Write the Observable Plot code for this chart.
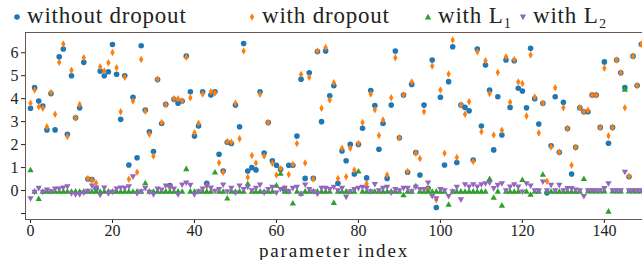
<!DOCTYPE html>
<html><head><meta charset="utf-8">
<script src="https://cdn.jsdelivr.net/npm/d3@7"></script>
<script src="https://cdn.jsdelivr.net/npm/@observablehq/plot@0.6"></script>
<style>
body{margin:0;background:#fff;}
#wrap{position:relative;width:642px;height:260px;overflow:hidden;font-family:"Liberation Serif",serif;}
#legend{position:absolute;left:0;top:0;width:642px;height:30px;}
.item{position:absolute;top:4px;font-size:23px;line-height:24px;letter-spacing:0.8px;color:#222;white-space:nowrap;}
.item svg{position:absolute;left:-15px;top:6px;overflow:visible;}
#chart{position:absolute;left:0;top:28px;}
</style></head><body>
<div id="wrap"><div id="legend"></div><div id="chart"></div></div>
<script>
const seriesNames = ["without dropout", "with dropout", "with L\u2081", "with L\u2082"];
const xTicks = [0, 20, 40, 60, 80, 100, 120, 140];
const yTicks = [-1, 0, 1, 2, 3, 4, 5, 6];
const xTitle = "parameter index";

const withoutDropout = [3.58,4.48,3.9,3.68,2.64,4.22,2.64,5.82,6.16,2.45,5.0,3.17,3.6,5.58,0.5,0.48,0.1,5.2,5.0,5.17,
6.36,5.06,3.1,5.0,1.11,4.06,1.43,6.3,3.5,2.56,1.7,4.83,2.92,3.75,0.22,3.97,3.8,3.9,5.85,4.3,
2.37,2.81,4.3,0.32,4.16,4.3,1.58,0.85,2.1,2.05,3.72,2.78,6.4,0.85,1.0,0.9,4.3,1.63,2.96,1.29,
1.1,0.92,0.05,1.1,1.1,2.37,4.85,0.53,5.13,0.53,6.05,3.0,6.08,4.13,4.56,0.32,1.72,1.3,2.01,0.72,
2.01,2.71,0.55,4.35,3.7,1.8,2.92,0.53,3.72,6.07,2.3,4.16,0.8,4.62,1.65,0.68,3.72,0.1,5.68,-0.74,
4.06,1.11,4.74,6.26,1.22,3.72,3.62,3.47,1.33,6.16,2.81,5.46,4.37,1.77,4.08,2.42,5.68,3.62,5.65,4.45,
4.33,3.6,6.19,4.0,2.9,3.8,-0.1,1.95,4.08,1.67,3.84,2.7,0.72,1.88,3.6,3.43,3.43,4.16,4.16,2.75,
5.6,2.06,2.75,5.68,5.13,4.48,0.6,5.85,4.57,6.37];

const withDropout = [3.8,4.38,3.65,3.58,2.78,4.27,3.32,5.58,6.38,2.35,5.24,3.17,3.75,5.78,0.52,0.45,0.33,5.39,5.2,5.56,
6.01,5.35,3.43,4.93,0.49,3.9,0.8,5.7,3.45,2.45,1.5,4.84,2.96,3.75,0.12,4.0,4.0,3.9,5.8,4.04,
2.52,2.93,4.2,0.2,4.3,4.25,1.21,0.8,2.13,2.1,3.8,2.25,6.07,0.58,1.53,1.2,4.19,1.5,2.96,1.19,
0.68,0.95,0.1,0.7,1.13,2.05,5.05,1.2,4.93,0.5,6.08,3.58,6.23,3.94,4.69,0.53,1.84,0.6,1.84,0.9,
2.05,2.96,0.3,4.2,3.52,2.4,3.07,0.68,4.04,5.78,2.3,4.16,0.83,4.73,1.62,1.4,3.43,0.05,5.42,-0.4,
4.38,1.62,5.07,6.55,1.44,3.72,3.32,3.87,1.26,6.04,2.56,5.65,4.22,2.42,5.14,2.63,5.82,3.84,5.7,4.73,
4.66,3.25,5.9,4.07,2.5,3.8,0.4,1.9,4.48,1.67,3.6,2.7,1.1,1.88,3.62,3.43,3.5,4.16,4.16,2.75,
5.32,2.39,2.75,5.68,5.13,3.6,0.62,5.85,4.57,6.37];

const withL1 = [0.9,-0.03,-0.35,-0.04,-0.03,-0.04,-0.03,-0.04,-0.03,-0.03,-0.04,-0.03,-0.04,-0.03,-0.03,-0.04,-0.03,-0.04,-0.03,-0.03,
-0.04,-0.03,-0.04,-0.03,-0.03,-0.04,-0.03,-0.04,0.33,-0.03,-0.04,-0.03,-0.04,-0.03,-0.03,-0.04,-0.03,-0.04,0.95,-0.03,
-0.04,-0.03,-0.04,-0.03,-0.03,0.8,-0.03,-0.04,-0.33,-0.03,-0.04,-0.03,-0.04,0.3,-0.03,-0.04,-0.03,-0.04,-0.03,-0.03,
0.23,0.75,-0.04,-0.03,-0.55,-0.04,-0.12,-0.03,-0.04,-0.03,-0.03,-0.04,-0.03,-0.04,-0.52,-0.03,-0.04,-0.03,-0.04,-0.03,
0.85,-0.03,-0.04,-0.03,-0.04,-0.03,-0.03,-0.04,-0.03,-0.04,-0.03,-0.19,-0.04,-0.03,0.2,-0.03,-0.04,-0.03,-0.04,-0.03,
-0.03,-0.04,-0.6,-0.03,-0.04,-0.03,-0.04,-0.03,-0.03,-0.04,-0.03,-0.04,0.52,-0.3,-0.03,-0.64,-0.04,-0.03,-0.04,-0.03,
0.48,-0.03,-0.17,-0.03,-0.04,0.7,-0.03,-0.04,-0.03,-0.04,-0.03,-0.03,-0.04,-0.03,-0.04,0.52,-0.02,-0.02,-0.02,-0.02,
-0.02,-0.9,-0.02,-0.02,-0.02,4.4,-0.02,-0.02,-0.02,-0.02];

const withL2 = [-0.35,-0.07,0.1,-0.07,0.03,-0.05,0.07,0.07,0.12,0.17,-0.13,-0.18,-0.18,-0.1,-0.03,0.2,0.12,-0.2,0.12,-0.13,
-0.07,0.07,0.12,0.1,0.17,0.6,-0.13,-0.05,0.1,-0.07,-0.18,0.07,0.03,0.2,0.17,0.07,-0.18,0.25,0.33,0.23,
-0.18,-0.05,0.07,0.2,0.12,-0.03,0.05,0.25,-0.05,0.1,-0.1,0.2,0.05,0.15,0.0,0.1,0.25,-0.1,0.05,0.15,
-0.1,0.05,0.1,-0.05,0.1,0.15,-0.15,0.25,0.05,-0.05,-0.15,0.1,0.1,0.05,0.15,0.0,0.1,-0.28,-0.05,0.05,
0.1,0.15,0.1,-0.05,0.27,0.0,0.1,0.15,-0.1,0.05,0.0,0.1,0.1,-0.05,0.15,0.05,0.05,0.33,-0.25,-0.35,
0.05,0.0,-0.25,-0.05,0.15,-0.4,0.26,0.16,0.26,0.16,0.26,0.3,0.33,0.09,0.23,0.3,0.0,0.16,0.26,0.16,
-0.06,0.3,0.2,0.0,0.0,0.38,0.0,0.23,0.0,0.23,0.0,0.09,0.09,0.03,0.0,-0.25,0.0,0.0,0.0,0.0,
0.09,0.3,0.0,0.0,0.0,0.8,0.0,0.0,0.0,0.0];

const colors = ["#1f77b4", "#ff7f0e", "#2ca02c", "#9467bd"];

const thinDiamond = {draw(ctx, size){ const r = Math.sqrt(size/Math.PI);
  ctx.moveTo(0,-r*1.25); ctx.lineTo(r*0.72,0); ctx.lineTo(0,r*1.25); ctx.lineTo(-r*0.72,0); ctx.closePath(); }};
const triUp = {draw(ctx, size){ const r = Math.sqrt(size/Math.PI);
  ctx.moveTo(0,-r*1.05); ctx.lineTo(r*1.05,r*0.8); ctx.lineTo(-r*1.05,r*0.8); ctx.closePath(); }};
const triDown = {draw(ctx, size){ const r = Math.sqrt(size/Math.PI);
  ctx.moveTo(0,r*1.05); ctx.lineTo(r*1.05,-r*0.8); ctx.lineTo(-r*1.05,-r*0.8); ctx.closePath(); }};
const symbols = [d3.symbolCircle, thinDiamond, triUp, triDown];
const radii = [2.8, 3.0, 3.0, 3.0];

const allSeries = [withoutDropout, withDropout, withL1, withL2];
const rows = allSeries.map(vals => vals.map((v, i) => ({i, v})));

const dotMarks = rows.map((data, k) => Plot.dot(data, {
  x: "i", y: "v", symbol: () => symbols[k], r: radii[k], fill: colors[k], stroke: "none"
}));

const chart = Plot.plot({
  width: 642, height: 232,
  marginLeft: 25, marginRight: 0, marginTop: 4, marginBottom: 41,
  style: {fontFamily: "'Liberation Serif', serif", fontSize: "16px", color: "#222", background: "transparent"},
  x: {domain: [-1.22, 149.3]},
  y: {domain: [-1.26, 6.88]},
  symbol: {type: "identity"},
  marks: [
    Plot.axisX({ticks: xTicks, tickSize: 4, tickPadding: 1, fontSize: 16, label: null}),
    Plot.axisY({ticks: yTicks, tickSize: 4, tickPadding: 3, fontSize: 16,
      tickFormat: d => d < 0 ? "" : String(d), label: null}),
    ...dotMarks,
    Plot.frame({anchor: "left", stroke: "#6e5650"}),
    Plot.frame({anchor: "top", stroke: "#6e5650"}),
    Plot.frame({anchor: "bottom", stroke: "#6e5650"}),
    Plot.text([xTitle], {frameAnchor: "bottom", dy: 37, fontSize: 19, fill: "#222",
      lineAnchor: "bottom", text: d => d, letterSpacing: "1.8px"})
  ]
});
document.getElementById("chart").appendChild(chart);
d3.select(chart).selectAll("text").filter(function(){ return this.textContent === xTitle; })
  .style("letter-spacing", "1.8px");

// legend
const legendX = [27, 262, 438, 533];
const legend = document.getElementById("legend");
seriesNames.forEach((name, k) => {
  const div = document.createElement("div");
  div.className = "item";
  div.style.left = legendX[k] + "px";
  const s = d3.create("svg").attr("width", 10).attr("height", 12);
  const sym = d3.symbol(symbols[k], Math.PI * radii[k] * radii[k]);
  s.append("path").attr("transform", "translate(5,7)").attr("d", sym()).attr("fill", colors[k]);
  div.appendChild(s.node());
  div.appendChild(document.createTextNode(name));
  legend.appendChild(div);
});
</script>
</body></html>
